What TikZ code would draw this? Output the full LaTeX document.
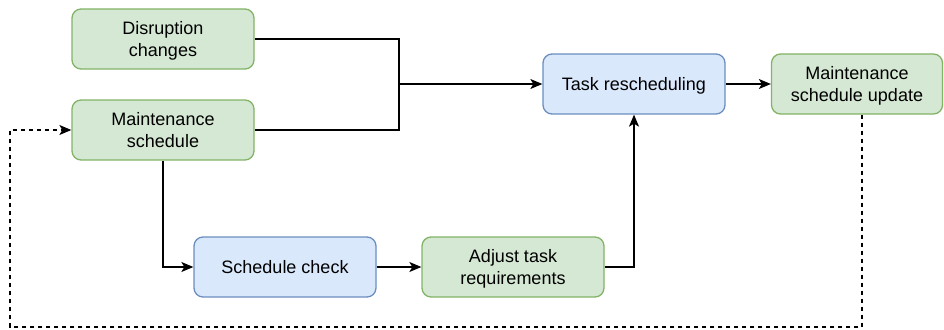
\documentclass[tikz,border=0pt]{standalone}
\usepackage{fontspec}
\setmainfont{Liberation Sans}
\usetikzlibrary{arrows.meta}
\definecolor{gfill}{HTML}{D5E8D4}
\definecolor{gline}{HTML}{82B366}
\definecolor{bfill}{HTML}{DAE8FC}
\definecolor{bline}{HTML}{6C8EBF}
\begin{document}
\begin{tikzpicture}[x=1pt,y=-1pt,
  box/.style={rounded corners=9pt, minimum width=182pt, minimum height=60pt,
    line width=1.3pt, align=center, inner sep=2pt, text depth=0pt,
    font=\fontsize{18}{21.5}\selectfont},
  gbox/.style={box, draw=gline, fill=gfill},
  bbox/.style={box, draw=bline, fill=bfill},
  conn/.style={line width=1.3pt, -{Stealth[length=12pt,width=10pt,inset=3pt]}},
  plain/.style={line width=1.3pt},
  fb/.style={conn, dash pattern=on 4pt off 4pt}]
\useasboundingbox (0,0) rectangle (944,329);
\node[gbox] (dis) at (163,39) {Disruption\\changes};
\node[gbox] (ms) at (163,130) {Maintenance\\schedule};
\node[bbox] (tr) at (634,84) {Task rescheduling};
\node[gbox, minimum width=171pt] (upd) at (857,84) {Maintenance\\schedule update};
\node[bbox] (sc) at (285,267) {Schedule check};
\node[gbox] (adj) at (513,267) {Adjust task\\requirements};
\coordinate (j) at (399,84);
\coordinate (fbr) at (862,327);
\coordinate (fbl) at (10,327);
% inputs merging into the rescheduling step
\draw[plain] (dis.east) -| (j);
\draw[plain] (ms.east) -| (j);
\draw[conn] (j) -- (tr.west);
\draw[conn] (tr.east) -- (upd.west);
% check branch
\draw[conn] (ms.south) |- (sc.west);
\draw[conn] (sc.east) -- (adj.west);
\draw[conn] (adj.east) -| (tr.south);
% feedback loop
\draw[fb] (upd.south -| fbr) -- (fbr) -- (fbl) |- (ms.west);
\end{tikzpicture}
\end{document}
